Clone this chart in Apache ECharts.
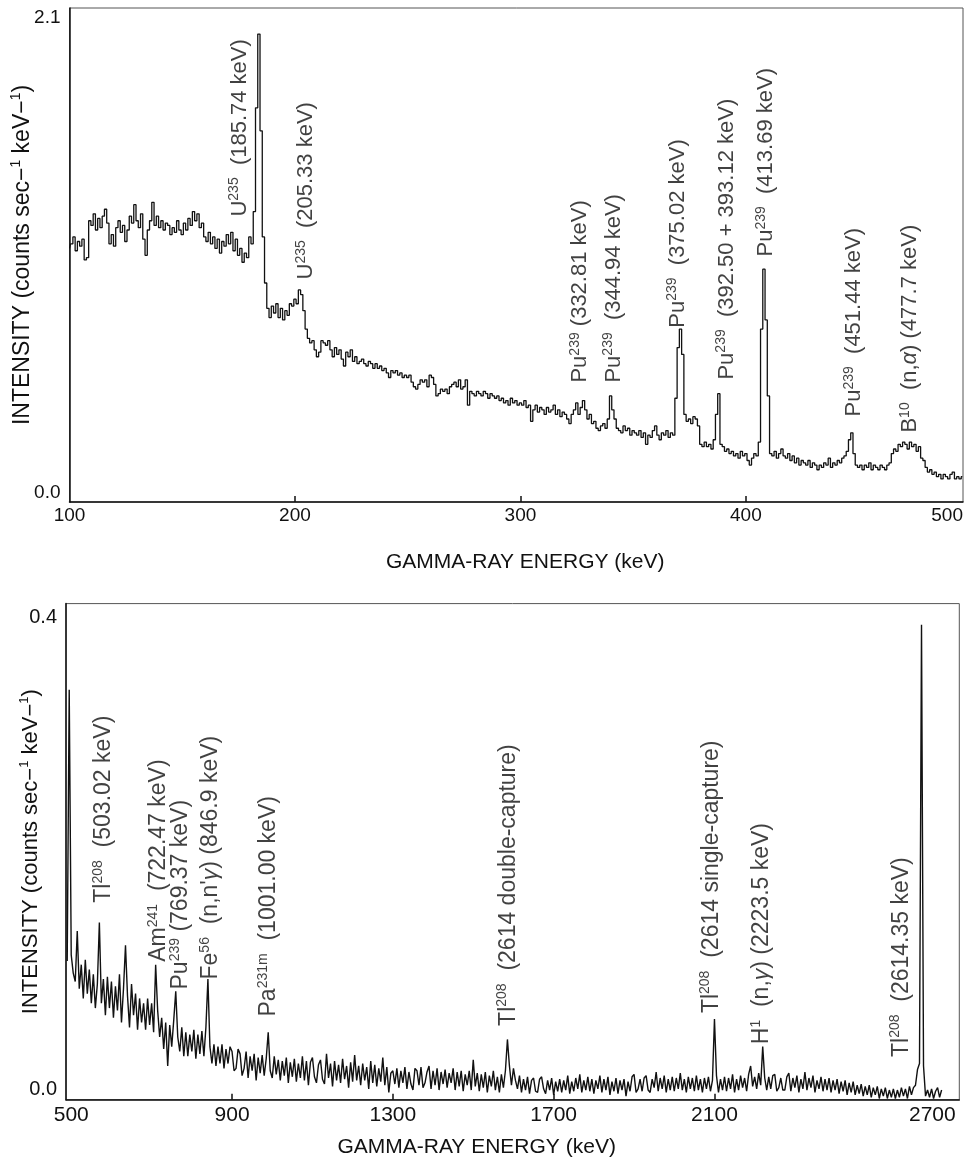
<!DOCTYPE html>
<html><head><meta charset="utf-8">
<script src="https://cdn.jsdelivr.net/npm/echarts@6/dist/echarts.min.js"></script>
<style>html,body{margin:0;padding:0;background:#fff}#c{width:965px;height:1162px}</style>
</head><body><div id="c"></div>
<script>
// ---------- DATA ----------
// Upper spectrum: 1 keV bins starting at 100 keV, values in units of 0.01 counts/s/keV
const topStartKeV = 100, topStepKeV = 1;
const topCounts = [
110,112,115,109,113,111,114,105,106,122,
120,125,118,123,119,124,127,121,112,116,
111,119,122,117,120,113,118,124,121,129,
122,119,125,114,107,118,122,130,120,124,
119,122,118,121,120,116,119,117,122,118,
116,121,118,123,120,126,122,125,119,121,
115,113,117,112,115,110,114,108,113,111,
116,112,117,109,114,107,110,104,108,106,
115,112,126,171,203,161,115,95,84,80,
85,82,86,80,84,79,83,81,86,85,
88,86,92,90,83,75,71,69,70,66,
63,65,70,69,68,70,66,63,67,64,
66,62,59,65,63,66,61,63,60,61,
62,60,59,61,60,58,60,58,59,57,
58,56,54,57,56,57,55,56,54,55,
54,55,52,50,49,51,53,52,53,50,
55,54,51,46,47,49,48,49,47,50,
51,52,50,53,49,50,53,42,48,47,
46,48,47,46,48,47,45,47,46,45,
46,44,45,43,44,42,45,43,44,42,
43,42,44,41,42,35,40,42,39,41,
40,38,41,39,40,42,38,40,37,39,
38,36,34,38,40,43,38,41,44,40,
36,38,34,35,32,31,33,34,32,36,
46,40,36,32,31,30,33,31,32,29,
31,30,29,31,28,30,25,29,28,31,
33,29,27,30,29,31,28,30,29,45,
67,75,64,38,35,36,34,37,36,33,
25,24,26,24,25,23,27,38,47,25,
24,22,23,21,22,20,21,19,22,20,
21,18,16,19,21,20,26,75,101,79,
46,21,20,22,19,21,23,20,19,21,
18,20,17,19,16,18,17,16,18,15,
17,16,14,16,15,17,16,19,15,17,
16,18,17,19,20,22,27,30,21,16,
15,16,14,16,15,17,14,16,15,14,
16,15,14,16,17,21,23,22,25,24,
26,25,23,26,24,25,22,24,19,18,
15,13,14,12,13,11,12,10,12,11,
10,12,13,10,11,10,11
];
const topScale = 0.01;

// Lower spectrum: 5 keV bins starting at 490 keV, values in units of 0.001 counts/s/keV
const botStartKeV = 490, botStepKeV = 5;
const botCounts = [
115,340,120,105,98,140,92,112,84,116,
88,108,80,104,76,96,147,80,100,70,
102,76,98,68,94,74,104,64,92,128,
86,60,96,70,88,58,84,64,80,58,
84,62,80,56,112,74,52,68,42,64,
28,62,44,66,90,52,40,60,36,56,
36,54,40,58,34,54,38,57,36,60,
100,44,30,46,28,44,30,46,26,42,
30,44,40,24,26,42,38,20,26,40,
18,36,24,38,16,35,22,37,20,34,
56,24,18,36,21,33,16,32,20,35,
14,31,19,34,15,30,18,36,16,32,
12,31,35,19,14,29,33,17,13,38,
18,30,11,32,16,29,14,34,17,28,
10,31,15,37,16,28,12,30,16,27,
9,32,14,29,11,26,15,35,12,27,
6,22,24,13,26,10,24,14,27,9,
23,13,8,26,24,12,27,10,14,23,
28,9,24,12,26,8,23,13,25,10,
22,14,26,8,23,11,24,7,21,12,
24,8,33,11,22,7,21,10,23,6,
20,11,24,8,19,6,21,10,24,50,
28,12,26,16,9,20,6,17,8,19,
5,16,18,7,6,17,19,9,5,16,
8,18,4,15,7,17,6,16,8,20,
5,15,7,18,9,21,6,16,8,19,
7,17,5,16,9,20,6,17,8,19,
4,15,7,18,5,16,8,17,3,15,
7,19,21,6,9,17,7,18,20,8,
6,17,10,23,7,18,9,20,6,17,
8,19,7,18,9,22,8,17,6,19,
9,18,7,20,8,17,6,18,9,19,
7,16,67,20,6,17,8,19,7,18,
9,21,6,17,8,20,10,18,7,21,
28,11,19,9,22,12,44,18,8,19,
9,20,21,7,10,18,8,8,19,22,
7,18,10,20,6,17,9,23,8,18,
10,20,6,16,9,19,7,17,8,18,
6,16,8,17,5,15,7,16,4,14,
6,15,4,12,5,13,3,11,4,12,
2,10,4,11,1,9,3,10,1,8,
2,9,1,8,2,10,3,9,1,11,
4,10,12,25,30,394,28,3,8,2,
9,1,7,10,2,8
];
const botScale = 0.001;

// Axis ticks / labels
const topXRange = [100, 496.3];
const topXTickLabels = [100, 200, 300, 400, 500];
const topXTickMarks = [200, 300, 400];
const topYRange = [0, 2.143];
const topYTickLabels = [0, 2.1];

const botXRange = [487, 2709];
const botXTickLabels = [500, 900, 1300, 1700, 2100, 2700];
const botXTickMarks = [900, 1300, 1700, 2100];
const botYRange = [0, 0.4115];
const botYTickLabels = [0, 0.4];

// Peak annotations: [energy keV, intensity where label starts, element, mass number, note]
const topNotes = [
  [175.6, 1.236, 'U', '235', '  (185.74 keV)'],
  [205.3, 0.963, 'U', '235', '  (205.33 keV)'],
  [326.8, 0.516, 'Pu', '239', ' (332.81 keV)'],
  [341.5, 0.516, 'Pu', '239', '  (344.94 keV)'],
  [369.9, 0.754, 'Pu', '239', '  (375.02 keV)'],
  [391.6, 0.529, 'Pu', '239', '  (392.50 + 393.12 keV)'],
  [409.3, 1.063, 'Pu', '239', '  (413.69 keV)'],
  [448.3, 0.369, 'Pu', '239', '  (451.44 keV)'],
  [473.1, 0.299, 'B', '10', '  (n,α) (477.7 keV)']
];
const botNotes = [
  [582.5, 0.163, 'Tl', '208', '  (503.02 keV)'],
  [719.3, 0.114, 'Am', '241', '  (722.47 keV)'],
  [774.0, 0.091, 'Pu', '239', ' (769.37 keV)'],
  [848.6, 0.0993, 'Fe', '56', '  (n,n\'γ) (846.9 keV)'],
  [992.8, 0.0686, 'Pa', '231m', '  (1001.00 keV)'],
  [1589, 0.0608, 'Tl', '208', '  (2614 double-capture)'],
  [2094, 0.0714, 'Tl', '208', '  (2614 single-capture)'],
  [2219, 0.0456, 'H', '1', '  (n,γ) (2223.5 keV)'],
  [2566, 0.035, 'Tl', '208', '  (2614.35 keV)']
];

const xTitle = 'GAMMA-RAY ENERGY (keV)';

// ---------- CHART ----------
const FONT = '"Liberation Sans", Arial, Helvetica, sans-serif';
const INK = '#111';

function spectrum(start, step, vals, scale) {
  return vals.map((v, i) => [start + i * step, v * scale]);
}
function noteText(el, mass, note) {
  let s = '{n|' + el + '}{s|' + mass + '}';
  note.split(/([αγ])/).forEach(p => {
    if (!p) return;
    if (p === 'α' || p === 'γ') s += '{g|' + p + '}';
    else s += '{n|' + p + '}';
  });
  return s;
}
function noteRich(fs) {
  return {
    n: {fontSize: fs, fontFamily: FONT, color: INK, lineHeight: fs + 3},
    g: {fontSize: fs, fontFamily: FONT, color: INK, fontStyle: 'italic', lineHeight: fs + 3},
    s: {fontSize: Math.round(fs * 0.62), fontFamily: FONT, color: INK, verticalAlign: 'top', lineHeight: Math.round(fs * 0.62)}
  };
}
function yName() {
  return '{n|INTENSITY (counts sec−}{s|1}{n| keV−}{s|1}{n|)}';
}
function yNameStyle(fs) {
  return {
    fontFamily: FONT, color: INK, fontSize: fs,
    rich: {
      n: {fontSize: fs, fontFamily: FONT, color: INK, lineHeight: fs + 4},
      s: {fontSize: Math.round(fs * 0.6), fontFamily: FONT, color: INK, verticalAlign: 'top', lineHeight: Math.round(fs * 0.6)}
    }
  };
}
function labelLookup(list, range) {
  return v => {
    for (const t of list) { if (Math.abs(Math.min(Math.max(t, range[0]), range[1]) - v) < 1e-6) return String(t); }
    return String(v);
  };
}

const chart = echarts.init(document.getElementById('c'), null, {renderer: 'canvas'});
const axisLine = {show: true, lineStyle: {color: INK, width: 1.5}};

function noteSeries(idx, notes, fs) {
  return {
    type: 'scatter', xAxisIndex: idx, yAxisIndex: idx, symbolSize: 1, silent: true,
    itemStyle: {color: 'rgba(0,0,0,0)'},
    data: notes.map(n => ({value: [n[0], n[1]], txt: noteText(n[2], n[3], n[4])})),
    label: {show: true, position: [0, 0], rotate: 90, align: 'left', verticalAlign: 'middle',
      formatter: p => p.data.txt, rich: noteRich(fs)},
    labelLayout: {hideOverlap: false}
  };
}

const option = {
  animation: false,
  backgroundColor: '#fff',
  grid: [
    {left: 69.5, top: 8, width: 893.5, height: 494, show: true, borderColor: '#555', borderWidth: 1,
     outerBoundsMode: 'none', containLabel: false},
    {left: 66, top: 603.6, width: 893.3, height: 496.1, show: true, borderColor: '#555', borderWidth: 1,
     outerBoundsMode: 'none', containLabel: false}
  ],
  xAxis: [
    {
      type: 'value', gridIndex: 0, min: topXRange[0], max: topXRange[1],
      axisLine: axisLine,
      axisTick: {show: true, inside: true, length: 6, customValues: topXTickMarks, lineStyle: {color: INK, width: 1.5}},
      axisLabel: {show: true, customValues: topXTickLabels.map(v => Math.min(v, topXRange[1])),
        formatter: labelLookup(topXTickLabels, topXRange), alignMaxLabel: 'right',
        fontFamily: FONT, fontSize: 19, color: INK, margin: 4},
      splitLine: {show: false},
      name: xTitle, nameLocation: 'middle', nameGap: 50, nameMoveOverlap: false,
      nameTextStyle: {fontFamily: FONT, fontSize: 21, color: INK, padding: [0, 0, 0, 18]}
    },
    {
      type: 'value', gridIndex: 1, min: botXRange[0], max: botXRange[1],
      axisLine: axisLine,
      axisTick: {show: true, inside: true, length: 6, customValues: botXTickMarks, lineStyle: {color: INK, width: 1.5}},
      axisLabel: {show: true, customValues: botXTickLabels, alignMaxLabel: 'right',
        formatter: v => String(v),
        fontFamily: FONT, fontSize: 21, color: INK, margin: 5},
      splitLine: {show: false},
      name: xTitle, nameLocation: 'middle', nameGap: 37, nameMoveOverlap: false,
      nameTextStyle: {fontFamily: FONT, fontSize: 21, color: INK, padding: [0, 72, 0, 0]}
    }
  ],
  yAxis: [
    {
      type: 'value', gridIndex: 0, min: topYRange[0], max: topYRange[1],
      axisLine: axisLine, axisTick: {show: false}, splitLine: {show: false},
      axisLabel: {show: true, customValues: topYTickLabels, formatter: v => v.toFixed(1),
        verticalAlignMinLabel: 'bottom',
        fontFamily: FONT, fontSize: 19, color: INK, margin: 9},
      name: yName(), nameLocation: 'middle', nameGap: 33, nameMoveOverlap: false,
      nameTextStyle: yNameStyle(23)
    },
    {
      type: 'value', gridIndex: 1, min: botYRange[0], max: botYRange[1],
      axisLine: axisLine, axisTick: {show: false}, splitLine: {show: false},
      axisLabel: {show: true, customValues: botYTickLabels, formatter: v => v.toFixed(1),
        verticalAlignMinLabel: 'bottom',
        fontFamily: FONT, fontSize: 20, color: INK, margin: 9},
      name: yName(), nameLocation: 'middle', nameGap: 22, nameMoveOverlap: false,
      nameTextStyle: yNameStyle(22)
    }
  ],
  series: [
    {
      type: 'line', xAxisIndex: 0, yAxisIndex: 0, step: 'middle', symbol: 'none',
      data: spectrum(topStartKeV, topStepKeV, topCounts, topScale),
      lineStyle: {color: INK, width: 1.3}, silent: true
    },
    {
      type: 'line', xAxisIndex: 1, yAxisIndex: 1, symbol: 'none',
      data: spectrum(botStartKeV, botStepKeV, botCounts, botScale),
      lineStyle: {color: INK, width: 1.4}, silent: true
    },
    noteSeries(0, topNotes, 22),
    noteSeries(1, botNotes, 23)
  ]
};
chart.setOption(option);
</script>
</body></html>
